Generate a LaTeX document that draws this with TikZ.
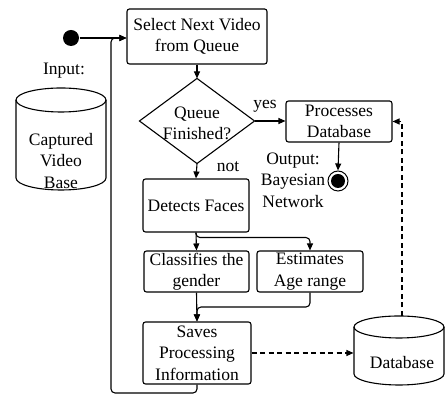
\documentclass[tikz,border=0pt]{standalone}
\usepackage{fontspec}
\setmainfont{Liberation Serif}
\usetikzlibrary{arrows.meta,calc}
\begin{document}
\begin{tikzpicture}[x=1pt,y=1pt,
  every node/.style={font=\fontsize{17.5}{21.5}\selectfont, inner sep=0pt},
  line width=1.1pt,
  box/.style={draw, rounded corners=2.5pt, align=center, line width=1.1pt},
  lbl/.style={align=center},
  arr/.style={-{Triangle[length=7pt,width=6pt]}, line width=1.1pt},
  dsh/.style={dash pattern=on 5pt off 3.5pt, line width=1.1pt}]
\useasboundingbox (0,0) rectangle (445,395);

% nodes
\node[box, minimum width=140pt, minimum height=55pt] (sel) at (197,358.5) {Select Next Video\\from Queue};
\node[minimum width=114pt, minimum height=84pt] (dia) at (197,274) {};
\draw (dia.north) -- (dia.east) -- (dia.south) -- (dia.west) -- cycle;
\node[lbl] (diat) at (197,271.5) {Queue\\Finished?};
\node[box, minimum width=106pt, minimum height=41pt] (proc) at (339,273.5) {Processes\\Database};
\node[lbl] (yes) at (265,289) {yes};
\node[lbl] (not) at (228,228) {not};
\node[circle, draw, minimum size=20pt, line width=1pt] (endc) at (338,214) {};
\node[circle, fill=black, minimum size=14pt] (endi) at (338,214) {};
\node[lbl] (outl) at (293,215) {Output:\\Bayesian\\Network};
\node[box, minimum width=106pt, minimum height=53pt] (det) at (196,189.5) {Detects Faces};
\node[box, minimum width=105pt, minimum height=41pt] (cls) at (196.5,123.5) {Classifies the\\gender};
\node[box, minimum width=106pt, minimum height=41pt] (est) at (310,123.5) {Estimates\\Age range};
\node[box, minimum width=108pt, minimum height=62pt] (sav) at (197,42) {Saves\\Processing\\Information};
\node[circle, fill=black, minimum size=16pt] (start) at (71,357) {};
\node[lbl] (inp) at (64,324) {Input:};

% Captured Video Base cylinder
\draw (16,295) -- (16,217) arc[start angle=180, end angle=360, x radius=45pt, y radius=12pt] -- (106,295);
\draw (61,295) ellipse [x radius=45pt, y radius=12pt];
\node[lbl] (cvb) at (61,234) {Captured\\Video\\Base};

% Database cylinder
\node[minimum width=90pt, minimum height=69pt] (db) at (399,44.5) {};
\draw (354,68) -- (354,21) arc[start angle=180, end angle=360, x radius=45pt, y radius=11pt] -- (444,68);
\draw (399,68) ellipse [x radius=45pt, y radius=11pt];
\node[lbl] (dbt) at (402,32) {Database};
\coordinate (dbtop) at (402,79);
\coordinate (lp) at (111,2);
\coordinate (mrg) at (197,88);

% connectors
\draw[arr] (start) -- (start -| sel.west);
\draw[arr, rounded corners=4pt] (sav.south) |- (lp) |- (start -| sel.west);
\draw[arr] (sel.south) -- (dia.north);
\draw[arr] (dia.east) -- (dia.east -| proc.west);
\draw[arr] (proc.south) -- (endc.north);
\draw[arr] (dia.south) -- (det.north);
\draw[arr] (det.south) -- (cls.north);
\draw[arr, rounded corners=4pt] (det.south) -- ++(0,-5) -| (est.north);
\draw[arr] (cls.south) -- (sav.north);
\draw[arr, rounded corners=4pt] (est.south) |- (mrg) -- (sav.north);
\draw[arr, dsh] (sav.east) -- (sav.east -| db.west);
\draw[arr, dsh] (dbtop) |- (proc.east);
\end{tikzpicture}
\end{document}
